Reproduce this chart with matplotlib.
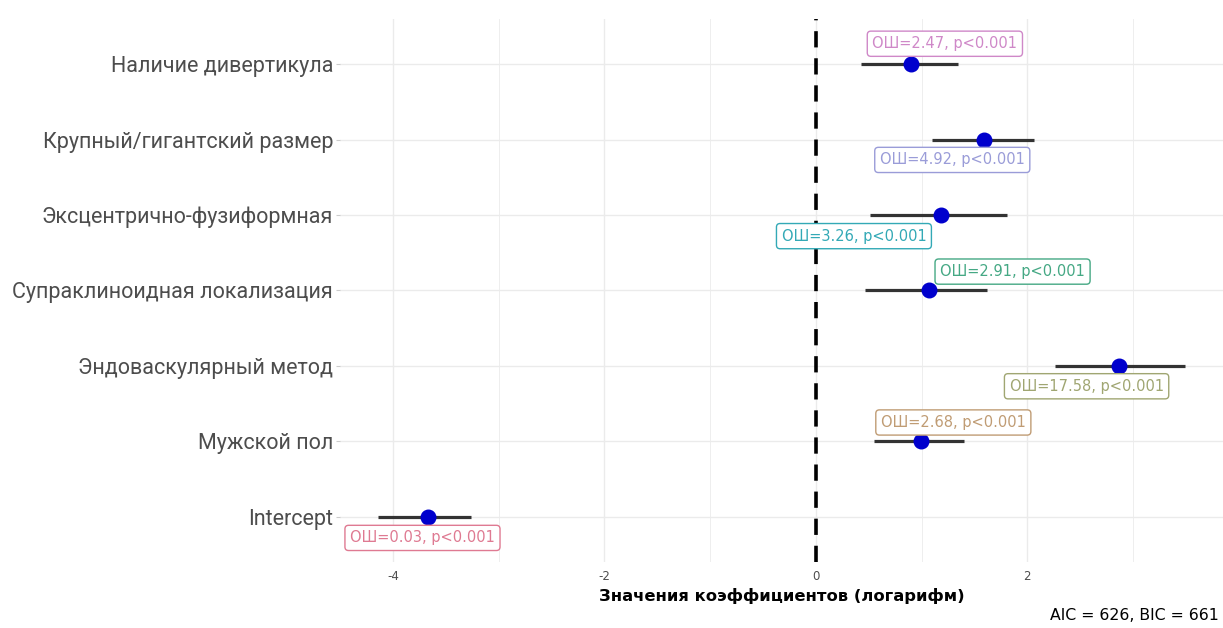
import numpy as np
import matplotlib
matplotlib.use("Agg")
import matplotlib.pyplot as plt

# ---------------- data ----------------
categories = ["Наличие дивертикула", "Крупный/гигантский размер", "Эксцентрично-фузиформная",
              "Супраклиноидная локализация", "Эндоваскулярный метод", "Мужской пол", "Intercept"]
estimates = [0.90, 1.59, 1.18, 1.07, 2.87, 0.99, -3.67]
ci_low = [0.43, 1.10, 0.51, 0.46, 2.26, 0.55, -4.14]
ci_high = [1.34, 2.06, 1.81, 1.62, 3.49, 1.40, -3.26]
labels = ["ОШ=2.47, p<0.001", "ОШ=4.92, p<0.001", "ОШ=3.26, p<0.001", "ОШ=2.91, p<0.001",
          "ОШ=17.58, p<0.001", "ОШ=2.68, p<0.001", "ОШ=0.03, p<0.001"]
label_colors = ["#cf88c8", "#9a9cd8", "#33a9b6", "#45a884", "#a0a672", "#c09c74", "#df7a92"]
x_ticks = [-4, -2, 0, 2]
fit_text = "AIC = 626, BIC = 661"

# label layout (x centre in data units, vertical offset in category units)
label_x = [1.22, 1.29, 0.36, 1.86, 2.56, 1.30, -3.72]
label_dy = [0.27, -0.27, -0.28, 0.25, -0.27, 0.25, -0.28]

fig = plt.figure(figsize=(12.23, 6.28), dpi=100)
ax = fig.add_axes([0.278, 0.105, 0.722, 0.865])

n = len(categories)
ypos = np.arange(n)[::-1] + 1  # top category highest

ax.set_xlim(-4.5, 3.85)
ax.set_ylim(0.4, n + 0.6)

# grid
for x in np.arange(-4, 4, 1):
    ax.axvline(x, color="#ebebeb", lw=1.0 if x % 2 == 0 else 0.6, zorder=0)
for y in ypos:
    ax.axhline(y, color="#ebebeb", lw=1.0, zorder=0)

ax.axvline(0, color="black", lw=2.6, linestyle=(0, (4.5, 3)), zorder=1)

ax.hlines(ypos, ci_low, ci_high, color="#333333", lw=2.3, zorder=2)
ax.scatter(estimates, ypos, s=110, color="#0000CD", zorder=3)

for i in range(n):
    ax.text(label_x[i], ypos[i] + label_dy[i], labels[i], ha="center", va="center",
            fontsize=10.5, color=label_colors[i], family="DejaVu Sans",
            bbox=dict(boxstyle="round,pad=0.35,rounding_size=0.25", fc="white",
                      ec=label_colors[i], lw=1.0), zorder=4)

ax.set_yticks(ypos)
ax.set_yticklabels(categories, fontsize=15.5, color="#4d4d4d",
                   family=["Roboto", "DejaVu Sans"])
ax.set_xticks(x_ticks)
ax.set_xticklabels([str(t) for t in x_ticks], fontsize=8.5, color="#4d4d4d")
ax.tick_params(axis="y", length=3, color="#cccccc", pad=2)
ax.tick_params(axis="x", length=0, pad=6)
for s in ax.spines.values():
    s.set_visible(False)

ax.set_xlabel("Значения коэффициентов (логарифм)", fontsize=11.8, fontweight="bold",
              color="black", labelpad=3)

fig.text(0.997, 0.008, fit_text, ha="right", va="bottom", fontsize=11.3, color="black")

fig.savefig("out.png", dpi=100, facecolor="white")
